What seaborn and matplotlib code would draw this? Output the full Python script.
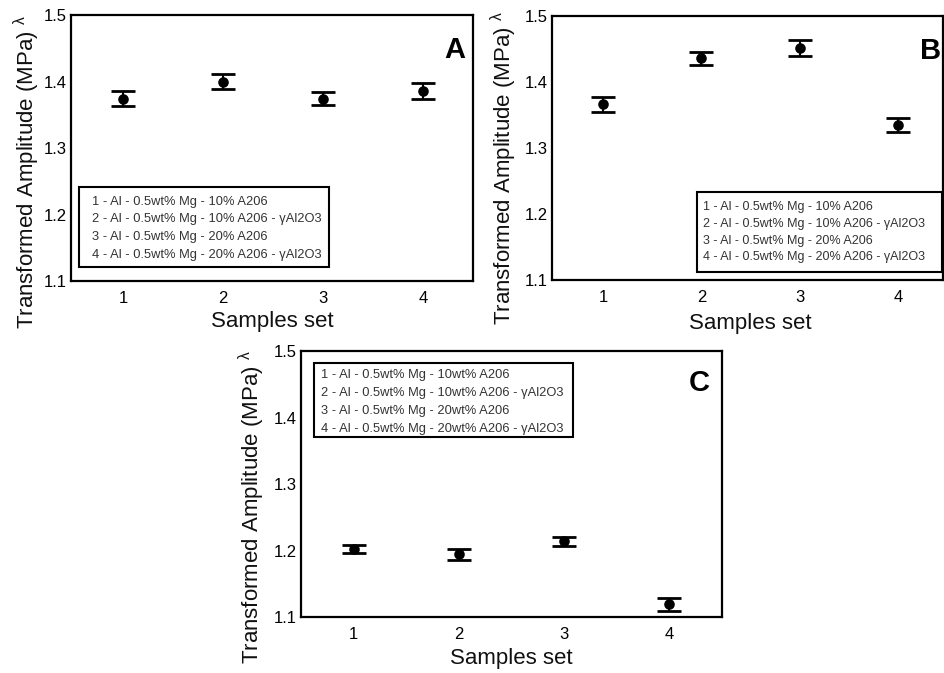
import matplotlib
matplotlib.use("Agg")
import matplotlib.pyplot as plt
import matplotlib.patches as mpatches
import seaborn as sns
import pandas as pd

samples = [1, 2, 3, 4]
a_mean = [1.374, 1.400, 1.374, 1.385]
a_err = [0.011, 0.011, 0.010, 0.012]
b_mean = [1.366, 1.436, 1.452, 1.335]
b_err = [0.012, 0.010, 0.012, 0.011]
c_mean = [1.202, 1.194, 1.214, 1.119]
c_err = [0.006, 0.008, 0.007, 0.010]

legend_ab = ["1 - Al - 0.5wt% Mg - 10% A206",
             "2 - Al - 0.5wt% Mg - 10% A206 - \u03b3Al2O3",
             "3 - Al - 0.5wt% Mg - 20% A206",
             "4 - Al - 0.5wt% Mg - 20% A206 - \u03b3Al2O3"]
legend_c = ["1 - Al - 0.5wt% Mg - 10wt% A206",
            "2 - Al - 0.5wt% Mg - 10wt% A206 - \u03b3Al2O3",
            "3 - Al - 0.5wt% Mg - 20wt% A206",
            "4 - Al - 0.5wt% Mg - 20wt% A206 - \u03b3Al2O3"]
panel_letters = ["A", "B", "C"]
yticks = [1.1, 1.2, 1.3, 1.4, 1.5]

sns.set_theme(style="white")
plt.rcParams['font.family'] = ['Liberation Sans', 'DejaVu Sans']
plt.rcParams['mathtext.fontset'] = 'custom'
plt.rcParams['mathtext.rm'] = 'Liberation Sans'
plt.rcParams['mathtext.it'] = 'Liberation Sans'

fig = plt.figure(figsize=(9.45, 6.73), dpi=100)
W, H = 945, 673

def add_ax(l, t, r, b):
    return fig.add_axes([l / W, (H - b) / H, (r - l) / W, (b - t) / H])

axA = add_ax(71, 15, 473, 281)
axB = add_ax(552, 16, 943, 280)
axC = add_ax(301, 351, 722, 617)

configs = [
    (axA, a_mean, a_err, (0.48, 4.5), legend_ab,
     dict(box=(0.020, 0.053, 0.642, 0.353), tx=0.052, ys=[0.298, 0.232, 0.165, 0.098], fs=9.3),
     (0.98, 0.868), (-0.109, 0.41), (0.502, -0.153)),
    (axB, b_mean, b_err, (0.48, 4.46), legend_ab,
     dict(box=(0.372, 0.030, 0.998, 0.333), tx=0.385, ys=[0.275, 0.212, 0.149, 0.086], fs=9.0),
     (0.995, 0.867), (-0.123, 0.426), (0.508, -0.163)),
    (axC, c_mean, c_err, (0.5, 4.5), legend_c,
     dict(box=(0.031, 0.676, 0.646, 0.954), tx=0.047, ys=[0.908, 0.842, 0.774, 0.708], fs=9.3),
     (0.971, 0.878), (-0.116, 0.414), (0.5, -0.156)),
]

for (ax, mean, err, xlim, leg, lg, letpos, ylpos, xlpos), letter in zip(configs, panel_letters):
    df = pd.DataFrame({"Samples set": samples, "value": mean, "err": err})
    ax.errorbar(df["Samples set"], df["value"], yerr=df["err"], fmt='none',
                ecolor='black', elinewidth=1.5, capsize=8.3, capthick=2.0, zorder=2)
    sns.scatterplot(data=df, x="Samples set", y="value", ax=ax, color='black',
                    s=58, edgecolor='black', linewidth=0, zorder=3, legend=False)
    ax.set_xlim(*xlim)
    ax.set_ylim(1.1, 1.5)
    ax.set_yticks(yticks)
    ax.set_yticklabels([f"{v:.1f}" for v in yticks])
    ax.set_xticks(samples)
    ax.tick_params(axis='both', labelsize=12, length=3, width=1.2,
                   colors='black', pad=3)
    ax.tick_params(axis='x', direction='in', pad=7)
    ax.tick_params(axis='y', direction='out', length=0)
    for sp in ax.spines.values():
        sp.set_linewidth(1.6)
        sp.set_color('black')
    ax.set_xlabel("Samples set", fontsize=16, color='#111111')
    ax.set_ylabel("Transformed Amplitude (MPa) $^{\\lambda}$", fontsize=16, color='#111111')
    ax.yaxis.set_label_coords(*ylpos)
    ax.xaxis.set_label_coords(*xlpos)
    ax.xaxis.label.set_va('center')
    ax.yaxis.label.set_va('center')
    x0, y0, x1, y1 = lg["box"]
    ax.add_patch(mpatches.Rectangle((x0, y0), x1 - x0, y1 - y0, transform=ax.transAxes,
                                    facecolor='white', edgecolor='black', linewidth=1.5,
                                    zorder=4, clip_on=False))
    for txt, yy in zip(leg, lg["ys"]):
        ax.text(lg["tx"], yy, txt, transform=ax.transAxes, ha='left', va='center',
                fontsize=lg["fs"], color='#333333', zorder=5)
    ax.text(letpos[0], letpos[1], letter, transform=ax.transAxes, ha='right', va='center',
            fontsize=21, fontweight='bold', color='black')

fig.savefig("out.png", dpi=100, facecolor='white')
